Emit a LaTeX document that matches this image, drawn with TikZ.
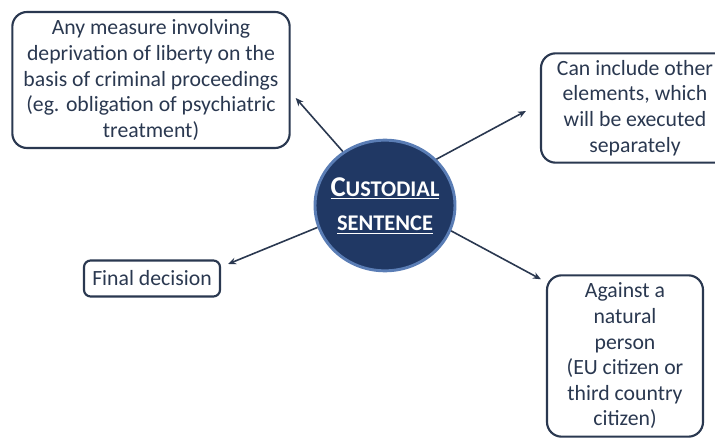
\documentclass[tikz,border=0pt]{standalone}
\usepackage{fontspec}
\setmainfont{Carlito}
\usetikzlibrary{arrows.meta,shapes.geometric}
\definecolor{navy}{HTML}{203864}
\definecolor{rimblue}{HTML}{5A7DB5}
\definecolor{inkgray}{HTML}{2A3850}

\begin{document}
\begin{tikzpicture}[x=0.75pt,y=-0.75pt,>={Stealth[length=6pt,width=5pt]},
  note/.style={draw=inkgray,line width=1.6pt,text=inkgray,align=center,inner sep=0pt,
    font=\fontsize{16.3}{19.2}\selectfont},
  link/.style={->,draw=inkgray,line width=1.2pt}]
  \useasboundingbox (0,0) rectangle (715,442);
  \clip (0,0) rectangle (715,442);
  \node[draw=rimblue,fill=navy,ellipse,line width=2.2pt,inner xsep=-14pt,inner ysep=-12pt,
    minimum width=105pt,minimum height=98pt,
    text=white,align=center,font=\bfseries] (c) at (385,205.5)
    {\underline{{\fontsize{21.5}{24}\selectfont C}{\fontsize{16.8}{24}\selectfont USTODIAL}}\\[12pt]
     \underline{\fontsize{16.8}{24}\selectfont SENTENCE}};
  \node[note,rounded corners=11pt,minimum width=208pt,minimum height=102pt] (b1) at (151,80)
    {Any measure involving\\deprivation of liberty on the\\basis of criminal proceedings\\(eg. obligation of psychiatric\\treatment)};
  \node[note,rounded corners=11pt,minimum width=141pt,minimum height=82pt] (b2) at (635,108)
    {Can include other\\elements, which\\will be executed\\separately};
  \node[note,rounded corners=5pt,minimum width=102pt,minimum height=27pt] (b3) at (152,278.5)
    {Final decision};
  \node[note,rounded corners=11pt,minimum width=117pt,minimum height=121pt] (b4) at (625,356)
    {Against a\\natural\\person\\(EU citizen or\\third country\\citizen)};
  \draw[link] (c.128.7) -- ([shift={(5,18)}]b1.east);
  \draw[link] (c.42.4) -- ([shift={(-14,3)}]b2.west);
  \draw[link] (c.198.3) -- ([shift={(7,-14.5)}]b3.east);
  \draw[link] (c.-21.3) -- ([shift={(-5,5)}]b4.north west);
\end{tikzpicture}
\end{document}
